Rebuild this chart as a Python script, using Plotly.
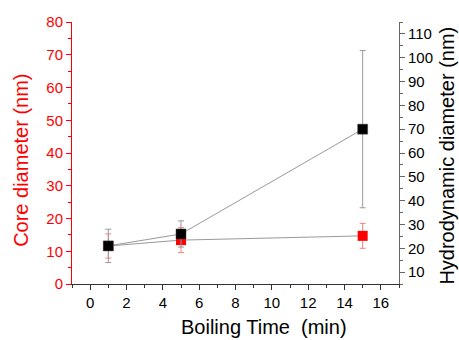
import plotly.graph_objects as go

boiling_time = [1, 5, 15]
core_diameter = [11.6, 13.4, 14.7]
core_err = [3.7, 3.8, 3.8]
hydro_diameter = [21, 26, 70]
hydro_err = [7, 5.5, 33]

FONT = "Arial, Liberation Sans, sans-serif"

fig = go.Figure()
fig.add_trace(go.Scatter(
    x=boiling_time, y=core_diameter, mode="lines+markers",
    line=dict(color="#999999", width=1),
    marker=dict(symbol="square", size=10, color="#ff0000"),
    error_y=dict(type="data", array=core_err, color="#ff8080", thickness=1, width=3),
    yaxis="y", showlegend=False))
fig.add_trace(go.Scatter(
    x=boiling_time, y=hydro_diameter, mode="lines+markers",
    line=dict(color="#999999", width=1),
    marker=dict(symbol="square", size=10, color="#000000", line=dict(color="#444444", width=0.5)),
    error_y=dict(type="data", array=hydro_err, color="#999999", thickness=1, width=3),
    yaxis="y2", showlegend=False))

fig.update_layout(
    width=459, height=340,
    margin=dict(l=72, r=60, t=22, b=56, autoexpand=False),
    paper_bgcolor="white", plot_bgcolor="white",
    font=dict(family=FONT, size=15, color="black"),
    xaxis=dict(range=[-1, 17], dtick=2, tick0=0, showgrid=False, zeroline=False,
               showline=True, linecolor="#333333", linewidth=1,
               ticks="outside", ticklen=5, tickcolor="#333333",
               minor=dict(ticks="outside", ticklen=3, dtick=1, tickcolor="#333333"),
               automargin=False, tickfont=dict(size=15)),
    yaxis=dict(range=[0, 80], dtick=10, showgrid=False, zeroline=False,
               showline=True, linecolor="#ff0000", linewidth=1,
               ticks="outside", ticklen=5, tickcolor="#ff0000",
               minor=dict(ticks="outside", ticklen=3, dtick=5, tickcolor="#ff0000"),
               automargin=False, tickfont=dict(color="#ff0000", size=15)),
    yaxis2=dict(range=[5, 115], dtick=10, tick0=0, overlaying="y", side="right",
                showgrid=False, zeroline=False,
                showline=True, linecolor="#666666", linewidth=1,
                ticks="outside", ticklen=5, tickcolor="#666666",
                minor=dict(ticks="outside", ticklen=3, dtick=5, tickcolor="#666666"),
                automargin=False, tickfont=dict(color="black", size=15)),
    annotations=[
        dict(text="Core diameter (nm)", xref="paper", yref="paper", x=(21-72)/327, y=0.47,
             xanchor="center", yanchor="middle", textangle=-90, showarrow=False,
             font=dict(size=20, color="#ff0000")),
        dict(text="Hydrodynamic diameter (nm)", xref="paper", yref="paper", x=(447-72)/327, y=0.49,
             xanchor="center", yanchor="middle", textangle=-90, showarrow=False,
             font=dict(size=20, color="black")),
        dict(text="Boiling Time  (min)", xref="paper", yref="paper", x=(264-72)/327, y=-(327-284)/262,
             xanchor="center", yanchor="middle", showarrow=False,
             font=dict(size=20, color="black")),
    ],
)

fig.write_html("out.html", config={"displayModeBar": False},
               post_script="document.body.style.margin='0';")
